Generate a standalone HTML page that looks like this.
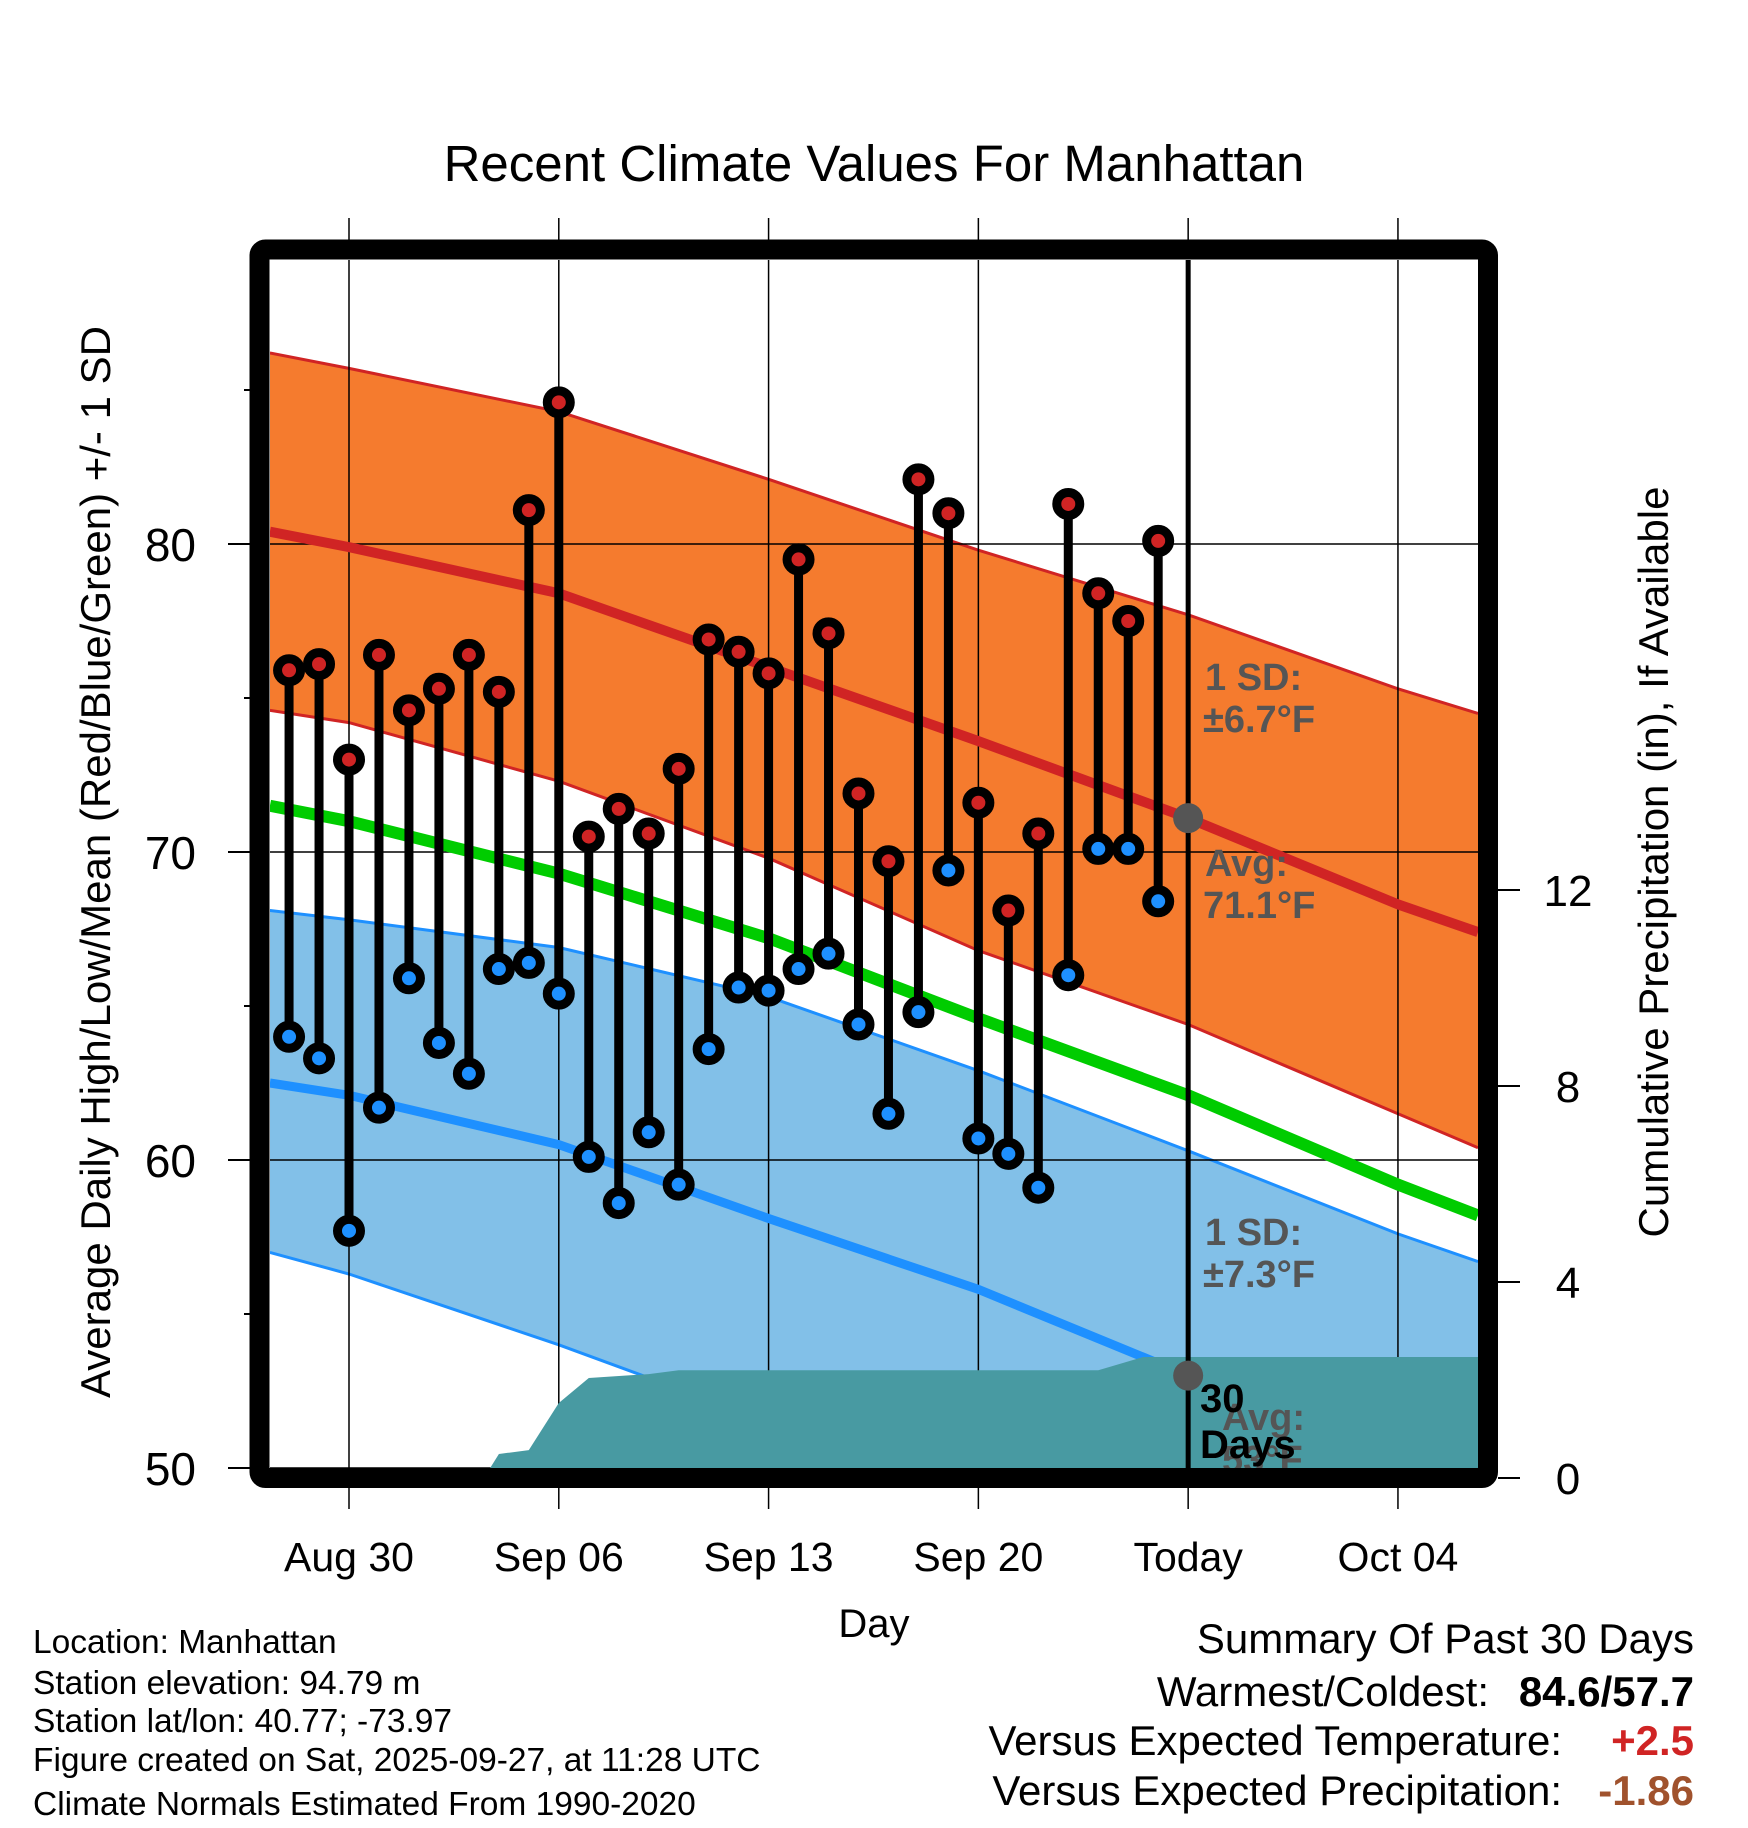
<!DOCTYPE html>
<html><head><meta charset="utf-8"><style>
body{margin:0;background:#fff}
svg{display:block;font-family:"Liberation Sans",sans-serif}
</style></head><body>
<svg id="c" width="1748" height="1828" viewBox="0 0 1748 1828" xmlns="http://www.w3.org/2000/svg"></svg>
<script>
const normDays=[-2.64,0,7,14,21,28,35,37.67];
const highTop=[86.2,85.7,84.3,82.1,79.8,77.7,75.3,74.5];
const highAvg=[80.4,79.9,78.4,76.0,73.6,71.1,68.3,67.4];
const highBot=[74.6,74.2,72.3,69.8,66.8,64.4,61.5,60.4];
const meanAvg=[71.5,71.0,69.3,67.2,64.6,62.1,59.2,58.2];
const lowTop=[68.1,67.8,66.9,65.3,62.9,60.3,57.6,56.7];
const lowAvg=[62.5,62.1,60.5,58.1,55.8,53.0,50.3,49.2];
const lowBot=[57.0,56.3,54.0,51.5,48.7,46.0,43.0,42.0];
const dayIdx=[-2,-1,0,1,2,3,4,5,6,7,8,9,10,11,12,13,14,15,16,17,18,19,20,21,22,23,24,25,26,27];
const highs=[75.9,76.1,73.0,76.4,74.6,75.3,76.4,75.2,81.1,84.6,70.5,71.4,70.6,72.7,76.9,76.5,75.8,79.5,77.1,71.9,69.7,82.1,81.0,71.6,68.1,70.6,81.3,78.4,77.5,80.1];
const lows=[64.0,63.3,57.7,61.7,65.9,63.8,62.8,66.2,66.4,65.4,60.1,58.6,60.9,59.2,63.6,65.6,65.5,66.2,66.7,64.4,61.5,64.8,69.4,60.7,60.2,59.1,66.0,70.1,70.1,68.4];
const precipDays=[4.5,5,6,7,8,10,11,25,26.5,37.67];
const precipVals=[0,0.49,0.57,1.53,2.04,2.12,2.2,2.2,2.47,2.47];
const xTickDays=[0,7,14,21,28,35];
const xTickLabels=["Aug 30","Sep 06","Sep 13","Sep 20","Today","Oct 04"];
const yTicks=[50,60,70,80];
const yMinor=[55,65,75,85];
const pTicks=[0,4,8,12];

const L=270,R=1478,T=260,B=1468;
const X=d=>349+d*29.97;
const Y=v=>544+(80-v)*30.8;
const P=p=>1478-p*49;
const svg=document.getElementById('c');
const NS='http://www.w3.org/2000/svg';
function mk(tag,attrs,parent){const e=document.createElementNS(NS,tag);for(const k in attrs)e.setAttribute(k,attrs[k]);(parent||svg).appendChild(e);return e;}
const defs=mk('defs',{});
const cp=mk('clipPath',{id:'pc'},defs);mk('rect',{x:L,y:T,width:R-L,height:B-T},cp);
const g=mk('g',{'clip-path':'url(#pc)'});


function pts(arr){return normDays.map((d,i)=>X(d).toFixed(1)+','+Y(arr[i]).toFixed(1));}
function band(top,bot,fill,edge,name){
  const p=pts(top).concat(pts(bot).reverse());
  const e=mk('polygon',{points:p.join(' '),fill:fill},g);
  
  
  [top,bot].forEach(a=>{mk('polyline',{points:pts(a).join(' '),fill:'none',stroke:edge,'stroke-width':3},g);});
}
band(highTop,highBot,'#f57b2e','#d02424','high-sd-band');
band(lowTop,lowBot,'#82c0e8','#1e90ff','low-sd-band');
yTicks.forEach(v=>mk('line',{x1:L,x2:R,y1:Y(v),y2:Y(v),stroke:'#000','stroke-width':1.5},g));
xTickDays.forEach(d=>mk('line',{x1:X(d),x2:X(d),y1:T,y2:B,stroke:'#000','stroke-width':1.5},g));
function line(arr,col,w,name){const e=mk('polyline',{points:pts(arr).join(' '),fill:'none',stroke:col,'stroke-width':w,'stroke-linejoin':'round'},g);}
line(highAvg,'#d02424',10,'avg-high-line');
line(meanAvg,'#00cc00',12,'avg-mean-line');
line(lowAvg,'#1e90ff',9,'avg-low-line');
const pp=precipDays.map((d,i)=>X(d).toFixed(1)+','+P(precipVals[i]).toFixed(1));
pp.push(X(37.67)+','+B);pp.push(X(4.5)+','+B);
const pr=mk('polygon',{points:pp.join(' '),fill:'#489aa2'},g);


dayIdx.forEach((d,i)=>{
  const x=X(d);
  mk('line',{x1:x,x2:x,y1:Y(highs[i]),y2:Y(lows[i]),stroke:'#000','stroke-width':9},g);
});
dayIdx.forEach((d,i)=>{
  const x=X(d);
  const h=mk('circle',{cx:x,cy:Y(highs[i]),r:11.5,fill:'#d02424',stroke:'#000','stroke-width':9},g);
  
  
  const l=mk('circle',{cx:x,cy:Y(lows[i]),r:11.5,fill:'#1e90ff',stroke:'#000','stroke-width':9},g);
  
  
});
mk('line',{x1:X(28),x2:X(28),y1:T,y2:B,stroke:'#000','stroke-width':5},g);
mk('circle',{cx:X(28),cy:Y(71.1),r:15,fill:'#555'},g);
mk('circle',{cx:X(28),cy:Y(53),r:15,fill:'#555'},g);
function txt(s,x,y,attrs,parent){const e=mk('text',Object.assign({x:x,y:y},attrs),parent||svg);e.textContent=s;return e;}
const lab={fill:'#555','font-size':38,'font-weight':'bold'};
txt('1 SD:',1205,690,lab,g);txt('±6.7°F',1203,732,lab,g);
txt('Avg:',1205,876,lab,g);txt('71.1°F',1203,918,lab,g);
txt('1 SD:',1205,1245,lab,g);txt('±7.3°F',1203,1287,lab,g);
txt('Avg:',1222,1430,lab,g);txt('53°F',1222,1472,lab,g);
const bl={fill:'#000','font-size':40,'font-weight':'bold'};
txt('30',1200,1412,bl,g);txt('Days',1200,1458,bl,g);
const fr=mk('rect',{x:259.5,y:249.5,width:1228.5,height:1228.5,fill:'none',stroke:'#000','stroke-width':20,rx:6});


yTicks.forEach(v=>{mk('line',{x1:228,x2:250,y1:Y(v),y2:Y(v),stroke:'#000','stroke-width':2});
  const t=txt(v,196,Y(v)+17,{'font-size':46,'text-anchor':'end'});});
yMinor.forEach(v=>mk('line',{x1:244,x2:250,y1:Y(v),y2:Y(v),stroke:'#000','stroke-width':2}));
pTicks.forEach(p=>{mk('line',{x1:1498,x2:1520,y1:P(p),y2:P(p),stroke:'#000','stroke-width':2});
  const t=txt(p,1568,P(p)+16,{'font-size':44,'text-anchor':'middle'});});
xTickDays.forEach((d,i)=>{
  mk('line',{x1:X(d),x2:X(d),y1:218,y2:240,stroke:'#000','stroke-width':1.5});
  mk('line',{x1:X(d),x2:X(d),y1:1488,y2:1509,stroke:'#000','stroke-width':1.5});
  const t=txt(xTickLabels[i],X(d),1571,{'font-size':41,'text-anchor':'middle'});
  
  
});
const ti=txt('Recent Climate Values For Manhattan',874,181,{'font-size':51,'text-anchor':'middle'});

const xt=txt('Day',874,1637,{'font-size':40,'text-anchor':'middle'});

const yt=txt('Average Daily High/Low/Mean (Red/Blue/Green) +/- 1 SD',0,0,{'font-size':42,'text-anchor':'middle',transform:'translate(110,862) rotate(-90)'});

const rt=txt('Cumulative Precipitation (in), If Available',0,0,{'font-size':42,'text-anchor':'middle',transform:'translate(1668,862) rotate(-90)'});

const info=['Location: Manhattan','Station elevation: 94.79 m','Station lat/lon: 40.77; -73.97','Figure created on Sat, 2025-09-27, at 11:28 UTC','Climate Normals Estimated From 1990-2020'];
const iy=[1653,1694,1732,1771,1815];
info.forEach((s,i)=>{const t=txt(s,33,iy[i],{'font-size':33.5});});
const st={'font-size':42,'text-anchor':'end'};
txt('Summary Of Past 30 Days',1694,1653,st);
txt('Warmest/Coldest:',1489,1706,st);
txt('84.6/57.7',1694,1706,{'font-size':42,'text-anchor':'end','font-weight':'bold'});
txt('Versus Expected Temperature:',1562,1755,st);
txt('+2.5',1694,1755,{'font-size':42,'text-anchor':'end','font-weight':'bold',fill:'#d02424'});
txt('Versus Expected Precipitation:',1562,1805,st);
txt('-1.86',1694,1805,{'font-size':42,'text-anchor':'end','font-weight':'bold',fill:'#a0522d'});
</script>
</body></html>
